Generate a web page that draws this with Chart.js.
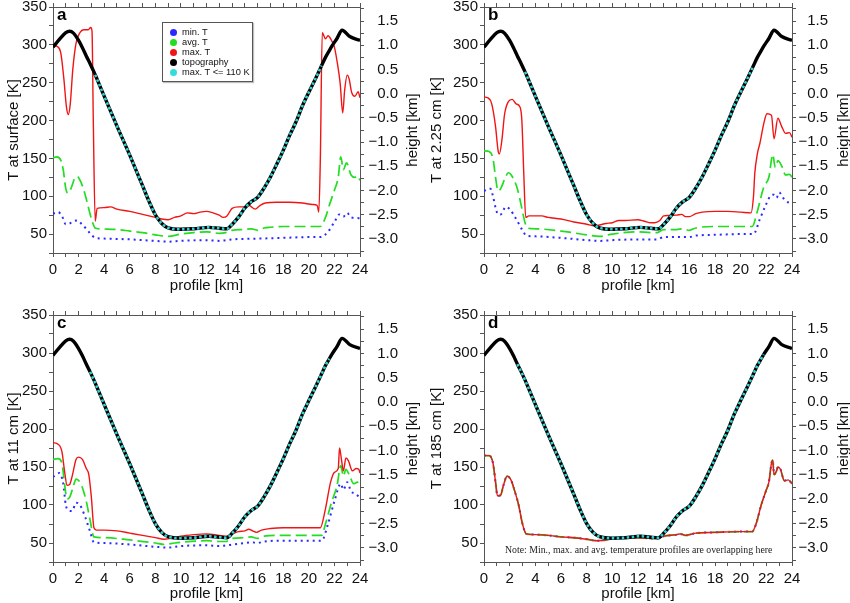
<!DOCTYPE html>
<html lang="en">
<head>
<meta charset="UTF-8">
<title>Temperature profiles across the crater</title>
<script src="https://cdn.jsdelivr.net/npm/chart.js"></script>
<style>
  body {
    margin: 0;
    width: 850px;
    height: 603px;
    position: relative;
    overflow: hidden;
    background: #fff;
    font-family: 'Liberation Sans', Arial, sans-serif;
  }
  canvas { position: absolute; }
  .legend {
    position: absolute;
    left: 162px; top: 22px;
    width: 89px; height: 58px;
    border: 1px solid #555;
    background: #fff;
    box-shadow: 1px 1px 1px rgba(0,0,0,0.25);
  }
  .legend div {
    position: absolute;
    left: 19px;
    font-size: 9.3px;
    line-height: 10px;
    color: #111;
    white-space: nowrap;
  }
  .legend span {
    position: absolute;
    left: -12px; top: 1.5px;
    width: 7px; height: 7px;
    border-radius: 50%;
  }
  .note {
    position: absolute;
    left: 505px; top: 544px;
    font-family: 'Liberation Serif', 'Times New Roman', serif;
    font-size: 9.8px;
    color: #222;
    white-space: nowrap;
  }
</style>
</head>
<body>

<canvas id="pa" width="425" height="295" style="left:0;top:0"></canvas>
<canvas id="pb" width="425" height="295" style="left:425px;top:0"></canvas>
<canvas id="pc" width="425" height="303" style="left:0;top:300px"></canvas>
<canvas id="pd" width="425" height="303" style="left:425px;top:300px"></canvas>

<div class="legend">
  <div style="top:4px"><span style="background:#2a2aff"></span>min. T</div>
  <div style="top:14px"><span style="background:#22dd22"></span>avg. T</div>
  <div style="top:24px"><span style="background:#f01414"></span>max. T</div>
  <div style="top:34px"><span style="background:#000"></span>topography</div>
  <div style="top:44px"><span style="background:#33dddd"></span>max. T &lt;= 110 K</div>
</div>
<div class="note">Note: Min., max. and avg. temperature profiles are overlapping here</div>

<script>
// profile position [km] paired with temperature [K] or height [km]

// topography (same in all four panels), height in km
const topoKm = [[0,0.96],[0.5,1.12],[1.0,1.26],[1.3,1.29],[1.6,1.25],[2.0,1.10],[2.3,0.95],[2.6,0.78],
  [2.9,0.62],[3.2,0.45],[3.3,0.39],[4.0,-0.05],[5.0,-0.67],[6.0,-1.27],[7.0,-1.90],[7.5,-2.22],
  [8.0,-2.50],[8.5,-2.68],[9.0,-2.77],[10.0,-2.80],[11.0,-2.79],[12.2,-2.76],[13.0,-2.78],[13.6,-2.79],
  [14.0,-2.70],[14.5,-2.55],[15.0,-2.36],[15.5,-2.23],[16.0,-2.14],[16.5,-1.95],[17.0,-1.72],[17.5,-1.45],
  [18.0,-1.17],[18.5,-0.86],[19.0,-0.58],[19.5,-0.25],[20.0,0.03],[20.5,0.30],[21.0,0.58],[21.3,0.75],
  [21.6,0.89],[21.8,0.98],[22.2,1.14],[22.6,1.31],[23.2,1.18],[24.0,1.10]];

// stretch of topography where max. T <= 110 K, per panel a-d
const coldStart = [3.3, 3.2, 2.9, 2.6];
const coldEnd = [21.0, 21.0, 21.6, 21.8];

// a: surface
const surfMax = [[0,300],[0.3,298],[0.6,290],[0.85,255],[1.05,218],[1.2,208],[1.35,222],[1.55,268],[1.8,302],
  [2.1,316],[2.4,320],[2.75,320],[2.95,323],[3.05,318],[3.15,200],[3.3,67],[3.45,84],[4.0,85],[4.5,86],
  [5.0,83],[6.0,80],[7.0,76],[8.0,72],[8.5,70],[9.0,69],[9.5,72],[10.0,74],[10.5,78],[11.0,77],[11.5,79],
  [12.0,80],[12.5,78],[13.0,75],[13.3,72],[13.6,74],[14.0,84],[14.5,86],[15.0,86],[15.3,88],[15.8,83],
  [16.2,88],[16.6,91],[17.5,92],[18.5,92],[19.5,91],[20.3,89],[20.65,88],[20.78,79],[20.9,150],[21.05,316],
  [21.3,308],[21.5,312],[21.8,305],[22.0,297],[22.2,279],[22.45,249],[22.65,210],[22.8,240],[23.0,260],
  [23.15,255],[23.35,237],[23.6,232],[23.85,238],[24.0,230]];
const surfAvg = [[0,151],[0.3,152],[0.6,148],[0.8,135],[1.0,110],[1.15,104],[1.4,110],[1.7,124],[1.9,126],
  [2.2,118],[2.5,103],[2.8,83],[3.1,65],[3.3,58],[3.6,57],[5,56],[6,54],[7,52],[8,49],[9,47],[10,50],
  [11,52],[12,53],[13,51],[13.5,52],[14,55],[15,56],[15.5,57],[16,55],[16.5,58],[17,59],[18,60],[20,60],
  [20.9,60],[21.3,72],[21.6,88],[22.0,108],[22.3,125],[22.5,152],[22.7,135],[22.95,144],[23.3,128],
  [23.6,125],[23.8,127],[24,121]];
const surfMin = [[0,77],[0.4,79],[0.7,74],[1.0,63],[1.3,64],[1.6,67],[1.9,68],[2.2,64],[2.6,57],[3.0,49],
  [3.3,45],[4,44],[6,43],[8,41],[9,40],[10,41],[12,42],[13,41],[14,43],[16,44],[18,45],[20,46],[20.9,46],
  [21.5,53],[22.0,66],[22.4,76],[22.7,73],[23.0,78],[23.3,72],[24,71]];

// b: 2.25 cm
const cm2Max = [[0,231],[0.3,230],[0.6,222],[0.9,192],[1.1,160],[1.2,156],[1.4,175],[1.6,208],[1.9,225],
  [2.2,228],[2.5,222],[2.8,218],[2.95,200],[3.1,130],[3.25,72],[3.5,74],[4,74],[4.5,74],[5,72],[6,70],
  [7,66],[8,63],[8.6,61],[9,62],[9.5,64],[10,65],[10.5,68],[11,68],[12,69],[12.5,67],[13,65],[13.3,65],
  [13.7,68],[14,74],[15,75],[15.4,76],[15.7,73],[16,73],[16.5,77],[17,79],[18,80],[19,80],[20,79],
  [20.8,78],[21.0,100],[21.1,130],[21.3,156],[21.5,170],[21.8,196],[22.05,209],[22.4,207],[22.6,176],
  [22.9,203],[23.2,192],[23.5,183],[23.8,184],[24,178]];
const cm2Avg = [[0,160],[0.4,159],[0.7,150],[0.9,125],[1.1,107],[1.3,110],[1.6,122],[1.9,131],[2.2,126],
  [2.6,110],[2.9,88],[3.2,65],[3.4,58],[4,57],[6,54],[8,49],[9,47],[10,50],[12,53],[13,52],[13.5,52],
  [14,56],[15,56],[15.5,57],[16,55],[16.5,58],[18,60],[20,60],[20.9,60],[21.3,80],[21.8,112],[22.2,125],
  [22.5,155],[22.7,138],[22.9,147],[23.2,140],[23.5,128],[23.8,129],[24,125]];
const cm2Min = [[0,107],[0.5,110],[0.7,100],[0.9,85],[1.1,76],[1.3,76],[1.7,86],[2.0,83],[2.5,70],[3.0,55],
  [3.3,48],[4,47],[6,45],[8,42],[9,41],[10,42],[12,43],[13.5,43],[14,46],[15,46],[16,46],[16.5,48],[18,49],
  [20,50],[21,50],[21.5,70],[22,90],[22.3,100],[22.6,102],[22.8,98],[23,105],[23.3,98],[23.5,94],[24,90]];

// c: 11 cm
const cm11Max = [[0,182],[0.4,180],[0.7,170],[0.9,145],[1.1,126],[1.3,127],[1.5,138],[1.8,160],[2.0,163],
  [2.3,160],[2.6,148],[2.8,140],[3.0,110],[3.2,70],[3.4,67],[4,67],[5,66],[6,63],[7,60],[8,57],[8.7,55],
  [9.5,57],[10,59],[11,61],[12,62],[13,60],[13.5,59],[14,62],[14.5,65],[15,66],[15.3,68],[15.6,66],
  [15.9,64],[16.3,67],[17,69],[18,70],[19,70],[20,70],[20.9,70],[21.3,95],[21.7,130],[22.0,143],
  [22.3,148],[22.4,175],[22.55,160],[22.7,145],[22.9,162],[23.1,158],[23.4,145],[23.7,148],[23.9,147],[24,142]];
const cm11Avg = [[0,160],[0.4,161],[0.7,155],[0.9,128],[1.1,108],[1.3,110],[1.6,125],[1.8,134],[2.2,127],
  [2.6,105],[2.9,80],[3.2,58],[4,57],[6,54],[8,50],[8.7,48],[9.5,50],[10,51],[12,53],[13,52],[13.5,52],
  [14,56],[15,57],[15.5,58],[16,56],[16.5,59],[18,60],[20,60],[21,60],[21.3,75],[21.8,105],[22.2,125],
  [22.5,152],[22.7,138],[22.9,147],[23.2,138],[23.5,128],[23.8,130],[24,125]];
const cm11Min = [[0,137],[0.5,142],[0.8,128],[1.0,100],[1.2,93],[1.5,92],[1.8,103],[2.1,100],[2.5,85],
  [2.9,65],[3.2,51],[4,50],[6,48],[8,45],[9,44],[10,46],[12,47],[13,46],[14,48],[15,50],[15.5,51],[16,50],
  [16.5,52],[18,53],[20,53],[21,53],[21.5,75],[22,105],[22.5,128],[22.7,120],[23,130],[23.3,118],[23.6,115],[24,110]];

// d: 185 cm (min, avg and max lie on top of each other)
const cm185Max = [[0,165],[0.4,165],[0.7,155],[0.9,130],[1.05,112],[1.3,113],[1.5,125],[1.8,138],[2.1,133],
  [2.4,118],[2.7,100],[3.0,75],[3.3,62],[4,61],[5,60],[6,58],[7,57],[8,55],[8.8,53],[9.5,54],[10,56],
  [11,57],[12,57],[13,56],[13.5,56],[14,59],[15,61],[15.3,62],[15.7,60],[16,61],[16.5,63],[18,64],[20,65],
  [20.9,65],[21.2,75],[21.6,100],[22.0,120],[22.2,130],[22.4,155],[22.5,159],[22.6,140],[22.8,145],
  [22.9,150],[23.1,147],[23.4,132],[23.7,133],[24,128]];
const cm185Avg = cm185Max;
const cm185Min = cm185Max;

const depthTitles = ['T at surface [K]', 'T at 2.25 cm [K]', 'T at 11 cm [K]', 'T at 185 cm [K]'];
const letters = ['a', 'b', 'c', 'd'];
const series = [
  [surfMin, surfAvg, surfMax],
  [cm2Min, cm2Avg, cm2Max],
  [cm11Min, cm11Avg, cm11Max],
  [cm185Min, cm185Avg, cm185Max]
];

// page geometry of each panel: canvas box, plot box, right edge of the height labels, title centres
const panels = [
  { id: 'pa', left: 0,   top: 0,   w: 425, h: 295, l: 53,  r: 360, t: 7,   b: 253, lab: 398, yTitle: 14,  hTitle: 413 },
  { id: 'pb', left: 425, top: 0,   w: 425, h: 295, l: 484, r: 792, t: 7,   b: 253, lab: 828, yTitle: 437, hTitle: 844 },
  { id: 'pc', left: 0,   top: 300, w: 425, h: 303, l: 53,  r: 360, t: 315, b: 562, lab: 398, yTitle: 14,  hTitle: 413 },
  { id: 'pd', left: 425, top: 300, w: 425, h: 303, l: 484, r: 792, t: 315, b: 562, lab: 828, yTitle: 437, hTitle: 844 }
];

const FONT = "'Liberation Sans', Arial, sans-serif";
const AXIS = '#555';

const toXY = pts => pts.map(p => ({ x: p[0], y: p[1] }));

const panelText = {
  id: 'panelText',
  afterDraw(chart, args, opts) {
    const { ctx, chartArea } = chart;
    ctx.save();
    ctx.fillStyle = '#000';
    ctx.font = 'bold 17px ' + FONT;
    ctx.textBaseline = 'alphabetic';
    ctx.fillText(opts.letter, chartArea.left + 4, chartArea.top + 12.5);
    ctx.font = '15px ' + FONT;
    ctx.fillStyle = '#111';
    ctx.translate(opts.hx, (chartArea.top + chartArea.bottom) / 2);
    ctx.rotate(-Math.PI / 2);
    ctx.textAlign = 'center';
    ctx.textBaseline = 'middle';
    ctx.fillText('height [km]', 0, 0);
    ctx.restore();
  }
};

panels.forEach((p, i) => {
  const [minT, avgT, maxT] = series[i];
  const cold = topoKm.filter(q => q[0] >= coldStart[i] && q[0] <= coldEnd[i]);

  const leftW = p.l - p.left;
  const rightW = p.lab - p.r;
  const padRight = p.left + p.w - p.lab;
  const topH = p.t - p.top;
  const bottomH = p.top + p.h - p.b;

  const fitY = w => s => { s.width = w; s.paddingTop = 0; s.paddingBottom = 0; };
  const fitX = h => s => { s.height = h; s.paddingLeft = 0; s.paddingRight = 0; };

  new Chart(document.getElementById(p.id), {
    type: 'line',
    data: {
      datasets: [
        { label: 'max. T <= 110 K', data: toXY(cold), yAxisID: 'yH', borderColor: '#2fd3d3',
          borderWidth: 2.6, borderDash: [2.5, 2.5], pointRadius: 0, cubicInterpolationMode: 'monotone' },
        { label: 'topography', data: toXY(topoKm), yAxisID: 'yH', borderColor: '#000',
          borderWidth: 3.4, pointRadius: 0, cubicInterpolationMode: 'monotone' },
        { label: 'max. T', data: toXY(maxT), yAxisID: 'yT', borderColor: '#f01414',
          borderWidth: 1.4, pointRadius: 0, cubicInterpolationMode: 'monotone' },
        { label: 'avg. T', data: toXY(avgT), yAxisID: 'yT', borderColor: '#22dd22',
          borderWidth: 1.7, borderDash: [11, 5], pointRadius: 0, cubicInterpolationMode: 'monotone' },
        { label: 'min. T', data: toXY(minT), yAxisID: 'yT', borderColor: '#2a2aff',
          borderWidth: 2, borderDash: [2, 4], pointRadius: 0, cubicInterpolationMode: 'monotone' }
      ]
    },
    options: {
      responsive: false,
      animation: false,
      events: [],
      layout: { padding: { left: 0, top: 0, bottom: 0, right: padRight } },
      scales: {
        x: {
          type: 'linear', position: 'bottom', min: 0, max: 24,
          ticks: {
            stepSize: 1, autoSkip: false, maxRotation: 0, padding: 4,
            color: '#111', font: { family: FONT, size: 15 },
            callback: v => (v % 2 === 0 ? String(v) : '')
          },
          grid: { drawOnChartArea: false, tickLength: 4, color: AXIS },
          border: { color: AXIS },
          title: { display: true, text: 'profile [km]', color: '#111',
                   font: { family: FONT, size: 15 }, padding: 0 },
          afterFit: fitX(bottomH)
        },
        xTop: {
          type: 'linear', position: 'top', min: 0, max: 24,
          ticks: { stepSize: 1, display: false, autoSkip: false },
          grid: { drawOnChartArea: false, tickLength: 4, color: AXIS },
          border: { color: AXIS },
          afterFit: fitX(topH)
        },
        yT: {
          type: 'linear', position: 'left', min: 25, max: 350,
          ticks: {
            stepSize: 25, includeBounds: false, autoSkip: false, padding: 2,
            color: '#111', font: { family: FONT, size: 15 },
            callback: v => (v % 50 === 0 ? String(v) : '')
          },
          grid: { drawOnChartArea: false, tickLength: 4, color: AXIS },
          border: { color: AXIS },
          title: { display: true, text: depthTitles[i], color: '#111',
                   font: { family: FONT, size: 15 }, padding: { top: p.yTitle - p.left - 9, bottom: 0 } },
          afterFit: fitY(leftW)
        },
        yH: {
          type: 'linear', position: 'right', min: -3.29, max: 1.79,
          ticks: {
            stepSize: 0.25, includeBounds: false, autoSkip: false, padding: 5, crossAlign: 'far',
            color: '#111', font: { family: FONT, size: 15 },
            callback: v => {
              if (Math.abs(v * 2 - Math.round(v * 2)) > 1e-6) return '';
              const s = Math.abs(v).toFixed(1);
              return v < -1e-9 ? '\u2212' + s : s;
            }
          },
          grid: { drawOnChartArea: false, tickLength: 4, color: AXIS },
          border: { color: AXIS },
          afterFit: fitY(rightW)
        }
      },
      plugins: {
        legend: { display: false },
        tooltip: { enabled: false },
        panelText: { letter: letters[i], hx: p.hTitle - p.left }
      }
    },
    plugins: [panelText]
  });
});
</script>
</body>
</html>
